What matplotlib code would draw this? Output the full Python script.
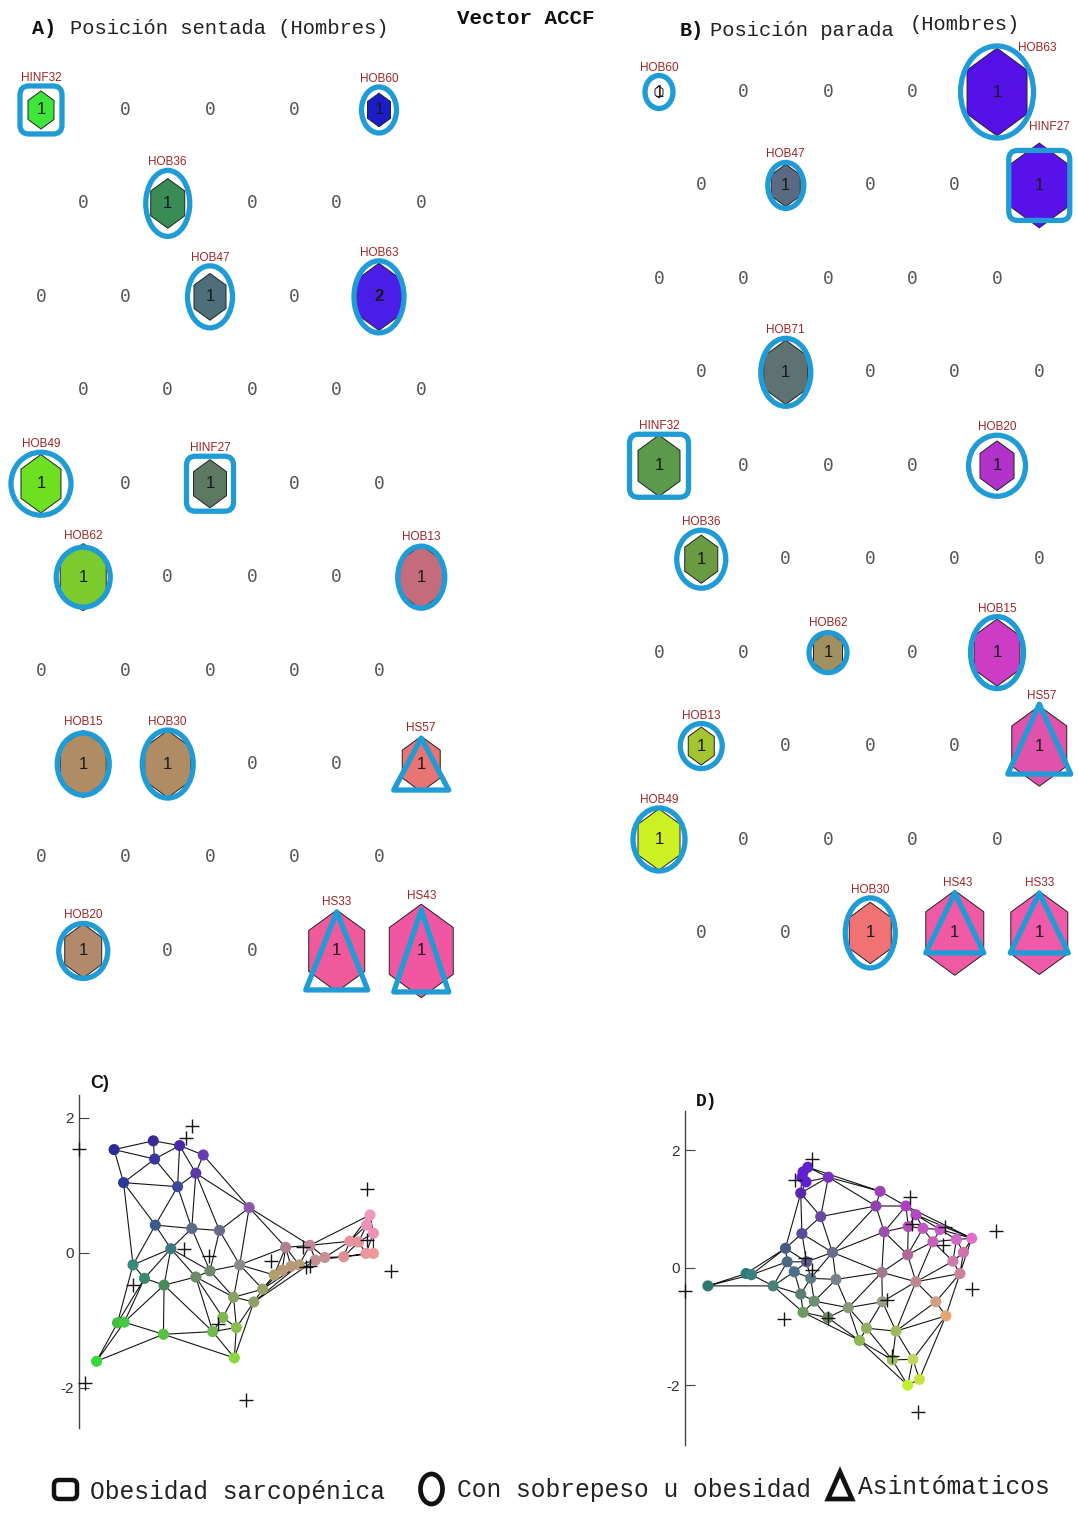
import numpy as np
import matplotlib
matplotlib.use('Agg')
import matplotlib.pyplot as plt
from matplotlib.patches import Polygon, Ellipse, FancyBboxPatch
import matplotlib.tri as mtri

# ------------------------------------------------------------------ data
# Panel A: SOM hit map, sitting position (5 x 10 hexagonal grid)
A_labels = ['HINF32', 'HOB60', 'HOB36', 'HOB47', 'HOB63', 'HOB49', 'HINF27', 'HOB62',
            'HOB13', 'HOB15', 'HOB30', 'HS57', 'HOB20', 'HS33', 'HS43']
A_rows = [0, 0, 1, 2, 2, 4, 4, 5, 5, 7, 7, 7, 9, 9, 9]
A_cols = [0, 4, 1, 2, 4, 0, 2, 0, 4, 0, 1, 4, 0, 3, 4]
A_hits = [1, 1, 1, 1, 2, 1, 1, 1, 1, 1, 1, 1, 1, 1, 1]
A_group = ['S', 'O', 'O', 'O', 'O', 'O', 'S', 'O', 'O', 'O', 'O', 'A', 'O', 'A', 'A']
A_colors = ['#3ee63a', '#1c1cc8', '#3a8c55', '#4e6e7c', '#4a1ee6', '#6ee022', '#5c7a62',
            '#7ccc30', '#c46c7c', '#b08c64', '#b08c64', '#e87474', '#b08a6a', '#f05a9a', '#f056a2']

# Panel B: SOM hit map, standing position
B_labels = ['HOB60', 'HOB63', 'HOB47', 'HINF27', 'HOB71', 'HINF32', 'HOB20', 'HOB36',
            'HOB62', 'HOB15', 'HOB13', 'HS57', 'HOB49', 'HOB30', 'HS43', 'HS33']
B_rows = [0, 0, 1, 1, 3, 4, 4, 5, 6, 6, 7, 7, 8, 9, 9, 9]
B_cols = [0, 4, 1, 4, 1, 0, 4, 0, 2, 4, 0, 4, 0, 2, 3, 4]
B_hits = [1] * 16
B_group = ['O', 'O', 'O', 'S', 'O', 'S', 'O', 'O', 'O', 'O', 'O', 'A', 'O', 'O', 'A', 'A']
B_colors = ['#f4f4f4', '#5410e6', '#5a6a82', '#5a12ea', '#5e7272', '#5a9a4a', '#b232cc',
            '#6a9a42', '#a09060', '#cc3cc4', '#a4c430', '#e052ac', '#ccf022', '#f07272',
            '#f05aa4', '#f05aa8']

# Panel C: SOM prototypes projected (sitting)
C_x = [-0.98, -0.40, -0.01, -0.38, 0.34, 0.23, -0.84, -0.04, 1.02, -0.37, 0.17, 0.58,
       -0.14, -0.70, -0.53, -0.24, 0.23, 0.44, 0.88, 1.56, 1.92, 1.51, 1.64, 1.76, 2.00,
       2.14, 2.42, 2.51, 2.64, 2.75, 2.86, 2.76, 2.81, 2.86, 0.79, 1.09, 1.22, 1.39, 0.63,
       0.83, 0.48, -0.25, -0.93, -0.83, -1.24, 0.80]
C_y = [1.53, 1.66, 1.59, 1.39, 1.45, 1.18, 1.04, 0.98, 0.67, 0.41, 0.36, 0.33, 0.06,
       -0.18, -0.38, -0.48, -0.36, -0.27, -0.18, 0.08, 0.11, -0.26, -0.20, -0.18, -0.11,
       -0.07, -0.06, 0.17, 0.16, -0.01, -0.01, 0.41, 0.56, 0.29, -0.66, -0.73, -0.54,
       -0.33, -0.96, -1.11, -1.17, -1.21, -1.04, -1.03, -1.61, -1.56]
C_colors = ['#2a2a9a', '#3a2a9a', '#4a2aa8', '#3a38a0', '#6a3ab0', '#5a3aa8', '#2a3a9a',
            '#3a4a9a', '#8a5aa8', '#3a5a8a', '#5a6a8a', '#6a6a8a', '#3a7a80', '#3a8a7a',
            '#3a8a6a', '#4a8a5a', '#6a8a6a', '#6a8a6a', '#8a8a8a', '#b08090', '#c08898',
            '#b89a78', '#b89a78', '#b89a78', '#c09090', '#c89090', '#e09090', '#e890a0',
            '#e89098', '#e898a0', '#f09898', '#f090b8', '#f098c0', '#f090b8', '#8aa060',
            '#90a068', '#9aa068', '#b0a070', '#80b850', '#88c050', '#70b850', '#58c040',
            '#40c040', '#48c848', '#38d838', '#88d840']
C_data_x = [0.18, 0.08, 2.76, 2.76, 3.12, 1.81, 1.92, 1.86, 1.34, 0.43, 0.05, -0.70,
            0.56, 0.98, -1.41, -1.50]
C_data_y = [1.88, 1.70, 0.94, 0.19, -0.27, 0.09, -0.20, -0.21, -0.12, -0.05, 0.05, -0.48,
            -1.05, -2.19, -1.93, 1.54]

# Panel D: SOM prototypes projected (standing)
D_x = [0.01, 0.09, -0.01, 0.06, 0.44, -0.03, 1.32, 1.25, 1.76, 1.93, 0.31, 1.80, 2.05,
       2.34, 1.39, -0.01, 2.22, 2.62, 2.88, 2.74, -0.29, 1.79, 0.51, 2.56, -0.26, 0.07,
       -0.14, 1.35, 2.68, -0.96, -0.87, -1.61, -0.50, 0.14, 0.57, 1.93, -0.03, 0.20, 0.78,
       1.36, 2.27, 2.44, 0.01, 0.43, 1.09, 1.59, 0.97, 1.53, 1.88, 1.99, 1.79]
D_y = [1.63, 1.71, 1.54, 1.46, 1.54, 1.27, 1.30, 1.05, 1.05, 0.90, 0.87, 0.70, 0.67,
       0.65, 0.61, 0.58, 0.44, 0.48, 0.50, 0.26, 0.33, 0.22, 0.26, 0.11, 0.10, 0.10,
       -0.07, -0.08, -0.10, -0.10, -0.12, -0.31, -0.31, -0.18, -0.20, -0.24, -0.45, -0.57,
       -0.68, -0.58, -0.58, -0.82, -0.76, -0.85, -1.03, -1.08, -1.24, -1.57, -1.56, -1.90,
       -2.00]
D_colors = ['#6020d0', '#6020d0', '#6020d0', '#6020d0', '#7a30c0', '#5a28b0', '#a040b8',
            '#9040b0', '#a840c0', '#b048c0', '#6a4aa0', '#b050b0', '#c058c0', '#c858c8',
            '#9a50a8', '#5a4a9a', '#c860b8', '#d068c8', '#e070d0', '#d070b0', '#4a5a88',
            '#b06898', '#6a6a90', '#d07aa8', '#4a6a88', '#5a5a88', '#4a7088', '#a07a90',
            '#d08098', '#2a7a7a', '#3a8080', '#2a7a70', '#4a8078', '#5a7a88', '#7a8088',
            '#c08890', '#5a8070', '#6a9070', '#8a9a78', '#9a9a88', '#d0a080', '#e0a870',
            '#6a9a60', '#6a8a60', '#90b060', '#a0b860', '#90b850', '#a0c060', '#c0d860',
            '#c8e040', '#c0f030']
D_data_x = [0.17, -0.12, 1.83, 1.87, 2.43, 2.40, 3.30, 0.04, 0.17, 2.89, 1.44, -0.31,
            0.43, 1.53, 1.97, -2.00]
D_data_y = [1.85, 1.50, 1.20, 0.75, 0.69, 0.39, 0.62, 0.16, -0.04, -0.36, -0.55, -0.88,
            -0.86, -1.50, -2.45, -0.40]

y_ticks = [-2, 0, 2]
y_ticklabels = ['-2', '0', '2']
legend_labels = ['Obesidad sarcopénica', 'Con sobrepeso u obesidad', 'Asintómaticos']

# ------------------------------------------------------------------ styling (pixel sizes / nudges)
A_hex_w = [26, 23, 34, 32, 46, 40, 33, 46, 44, 46, 46, 38, 37, 56, 64]
A_out_w = [42, 35, 44, 45, 50, 60, 47, 54, 47, 52, 51, 55, 49, 62, 55]
A_out_h = [48, 46, 66, 62, 72, 63, 55, 60, 62, 62, 68, 52, 55, 78, 82]
A_out_dy = [0] * 15
A_lab_dx = [0] * 15
A_lab_dy = [0] * 15
B_hex_w = [8, 60, 29, 58, 44, 42, 34, 33, 29, 46, 26, 55, 42, 42, 58, 57]
B_out_w = [28, 73, 36, 61, 50, 59, 57, 49, 38, 53, 42, 63, 52, 50, 58, 58]
B_out_h = [33, 92, 46, 70, 68, 63, 61, 58, 40, 72, 45, 70, 63, 70, 60, 60]
B_out_dy = [0, 0, 0, 0, 0, 0, 0, 0, 0, 0, 0, -7, 0, 0, -10, -10]
B_lab_dx = [0, 40, 0, 10, 0, 0, 0, 0, 0, 0, 0, 2, 0, 0, 3, 0]
B_lab_dy = [0, 10, 0, -8, 0, 0, 0, 0, 0, 0, 0, 0, 0, 0, 0, 0]

W, H = 1078, 1515
fig = plt.figure(figsize=(W / 100, H / 100), dpi=100)
fig.patch.set_facecolor('white')

OUT_C = '#1f9bd6'
LAB_C = '#a02424'
XPX = 84.5
YPX = 93.44
SANS = ['Liberation Sans', 'DejaVu Sans']
MONO = ['Liberation Mono', 'DejaVu Sans Mono']


def fax(l, t, r, b):
    return fig.add_axes([l / W, 1 - b / H, (r - l) / W, (b - t) / H])


def hex_verts(x, y, w):
    h = w * 1.46
    dx = w / 2 / XPX
    dy = h / 2 / YPX
    return [(x, y - dy), (x + dx, y - dy / 2), (x + dx, y + dy / 2), (x, y + dy),
            (x - dx, y + dy / 2), (x - dx, y - dy / 2)]


def draw_som(ax, labels, rows, cols, hits, groups, colors, hex_w, out_w, out_h, out_dy,
             lab_dx, lab_dy):
    occ = set()
    for k, (lab, r, c, n, g, col) in enumerate(zip(labels, rows, cols, hits, groups, colors)):
        hw, ow, oh, ody = hex_w[k], out_w[k], out_h[k], out_dy[k]
        occ.add((r, c))
        x = c + 0.5 * (r % 2)
        y = r
        ax.add_patch(Polygon(hex_verts(x, y, hw), closed=True, fc=col, ec='#222222',
                             lw=0.7, zorder=2, clip_on=False))
        ax.text(x, y, str(n), ha='center', va='center', fontsize=12, color='#1a1a1a',
                family=SANS, zorder=3, fontweight='bold' if n > 1 else 'normal')
        w_d = ow / XPX
        h_d = oh / YPX
        yy = y + ody / YPX
        if g == 'O':
            p = Ellipse((x, yy), w_d, h_d, fill=False, ec=OUT_C, lw=3.8, zorder=4, clip_on=False)
        elif g == 'S':
            p = FancyBboxPatch((x - w_d / 2, yy - h_d / 2), w_d, h_d,
                               boxstyle='round,pad=0,rounding_size=%f' % (9 / XPX),
                               mutation_aspect=XPX / YPX, fill=False, ec=OUT_C, lw=3.8,
                               zorder=4, clip_on=False)
        else:
            p = Polygon([(x - w_d / 2, yy + h_d / 2), (x + w_d / 2, yy + h_d / 2),
                         (x, yy - h_d / 2)], closed=True, fill=False, ec=OUT_C, lw=3.8,
                        joinstyle='round', zorder=4, clip_on=False)
        ax.add_patch(p)
        top = max(hw * 1.46 / 2, oh / 2 - ody)
        ax.text(x + lab_dx[k] / XPX, y - (top + 2 - lab_dy[k]) / YPX, lab, ha='center',
                va='bottom', fontsize=8.5, color=LAB_C, family=SANS, zorder=5)
    for r in range(10):
        for c in range(5):
            if (r, c) not in occ:
                ax.text(c + 0.5 * (r % 2), r, '0', ha='center', va='center', fontsize=13,
                        color='#555555', family=['DejaVu Sans Mono'], zorder=3)
    ax.set_ylim(9.6, -0.6)
    ax.axis('off')


axA = fax(0, 53.9, 463.5, 1007)
axA.set_xlim(-0.485, 5.0)
draw_som(axA, A_labels, A_rows, A_cols, A_hits, A_group, A_colors, A_hex_w, A_out_w,
         A_out_h, A_out_dy, A_lab_dx, A_lab_dy)

axB = fax(616.75, 35.94, 1077.3, 989)
axB.set_xlim(-0.5, 4.95)
draw_som(axB, B_labels, B_rows, B_cols, B_hits, B_group, B_colors, B_hex_w, B_out_w,
         B_out_h, B_out_dy, B_lab_dx, B_lab_dy)


def draw_proj(ax, x, y, colors, px, py, thr):
    x = np.asarray(x)
    y = np.asarray(y)
    tri = mtri.Triangulation(x, y)
    t = tri.triangles
    maxlen = np.zeros(len(t))
    for i in range(3):
        a = t[:, i]
        b = t[:, (i + 1) % 3]
        maxlen = np.maximum(maxlen, np.hypot(x[a] - x[b], y[a] - y[b]))
    tri.set_mask(maxlen > thr)
    ax.triplot(tri, color='#151515', lw=0.8, zorder=2)
    ax.scatter(x, y, s=64, c=colors, edgecolors='none', zorder=3)
    ax.plot(px, py, '+', color='#151515', ms=10, mew=1.0, ls='none', zorder=4, clip_on=False)
    for s in ['top', 'right', 'bottom']:
        ax.spines[s].set_visible(False)
    ax.spines['left'].set_color('#444444')
    ax.spines['left'].set_linewidth(1.0)
    ax.set_xticks([])
    ax.set_yticks(y_ticks)
    ax.set_yticklabels(y_ticklabels)
    ax.tick_params(axis='y', direction='in', length=7, color='#444444', labelsize=11,
                   labelcolor='#333333', pad=4)
    for lab in ax.get_yticklabels():
        lab.set_family(SANS)
    ax.patch.set_alpha(0)


axC = fax(79, 1095, 420, 1428)
axC.set_xlim(-1.5, 3.55)
axC.set_ylim(-2.6, 2.34)
draw_proj(axC, C_x, C_y, C_colors, C_data_x, C_data_y, 1.5)

axD = fax(685, 1111.4, 1059.8, 1445.1)
axD.set_xlim(-2.0, 4.38)
axD.set_ylim(-3.02, 2.66)
draw_proj(axD, D_x, D_y, D_colors, D_data_x, D_data_y, 1.5)

# ------------------------------------------------------------------ texts
def ftext(x, y, s, **kw):
    fig.text(x / W, 1 - y / H, s, **kw)


ftext(32, 28, 'A)', fontsize=14.5, family=MONO, fontweight='bold', va='center', color='#111')
ftext(70, 28, 'Posición sentada (Hombres)', fontsize=14.8, family=MONO, va='center', color='#222')
ftext(457, 18, 'Vector ACCF', fontsize=15, family=MONO, fontweight='bold', va='center', color='#111')
ftext(680, 30, 'B)', fontsize=14.5, family=MONO, fontweight='bold', va='center', color='#111')
ftext(710, 30, 'Posición parada', fontsize=14.8, family=MONO, va='center', color='#222')
ftext(910, 25, '(Hombres)', fontsize=14.8, family=MONO, va='center', color='#222')
ftext(90, 1083, 'C)', fontsize=13, family=SANS, fontweight='bold', va='center', color='#111')
ftext(696, 1102, 'D)', fontsize=13, family=MONO, fontweight='bold', va='center', color='#111')

# legend
axL = fig.add_axes([0, 0, 1, 1])
axL.set_xlim(0, W)
axL.set_ylim(H, 0)
axL.axis('off')
axL.patch.set_alpha(0)
axL.add_patch(FancyBboxPatch((54, 1480), 23, 19, boxstyle='round,pad=0,rounding_size=5',
                             fill=False, ec='#111', lw=3.2))
axL.add_patch(Ellipse((431.5, 1489), 22, 30, fill=False, ec='#111', lw=3.4))
axL.add_patch(Polygon([(828, 1499), (852, 1499), (840, 1472)], closed=True, fill=False,
                      ec='#111', lw=3.4, joinstyle='miter'))
ftext(90, 1492, legend_labels[0], fontsize=17.7, family=MONO, va='center', color='#222')
ftext(457, 1490, legend_labels[1], fontsize=17.7, family=MONO, va='center', color='#222')
ftext(858, 1487, legend_labels[2], fontsize=17.7, family=MONO, va='center', color='#222')

fig.savefig('out.png', dpi=100, facecolor='white')
